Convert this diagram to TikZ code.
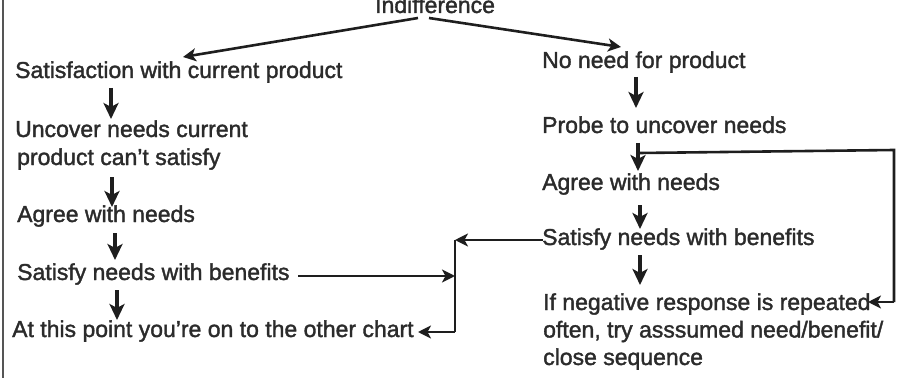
\documentclass[tikz,border=0pt]{standalone}
\usepackage{fontspec}
\setmainfont{Liberation Sans}[BoldFont=Liberation Sans, BoldFeatures={FakeBold=1.6}]
\usetikzlibrary{arrows.meta}
\definecolor{ink}{HTML}{2B2B2B}
\definecolor{lineink}{HTML}{1E1E1E}
\tikzset{
  lbl/.style={anchor=base west, inner sep=0pt, text=ink, align=left,
    font=\fontsize{23}{27.5}\selectfont\bfseries},
  downarr/.style={draw=lineink, line width=3.4pt, -{Stealth[length=16pt,width=15pt,inset=4pt]}},
  conn/.style={draw=lineink, line width=2.6pt, -{Stealth[length=13pt,width=13pt,inset=3.5pt]}},
  plain/.style={draw=lineink, line width=2.6pt},
}
\begin{document}
\begin{tikzpicture}[x=1pt,y=-1pt]
\useasboundingbox (0,0) rectangle (910,385);
% left frame line
\draw[draw=ink!80, line width=2pt] (3,0) -- (3,378);

\node[lbl] (ind) at (375,13) {Indifference};

% left column
\node[lbl] (l1) at (15,78) {Satisfaction with current product};
\node[lbl] (l2) at (15,165) {Uncover needs current\\[0.5pt]\hspace*{2pt}product can't satisfy};
\node[lbl] (l3) at (17,222) {Agree with needs};
\node[lbl] (l4) at (17,280) {Satisfy needs with benefits};
\node[lbl] (l5) at (12,337) {At this point you're on to the other chart};

% right column
\node[lbl] (r1) at (542,68) {No need for product};
\node[lbl] (r2) at (542,133) {Probe to uncover needs};
\node[lbl] (r3) at (542,190) {Agree with needs};
\node[lbl] (r4) at (542,245) {Satisfy needs with benefits};
\node[lbl] (r5) at (543,365) {If negative response is repeated\\often, try asssumed need/benefit/\\close sequence};

% top branches
\coordinate (indL) at (418,18);
\coordinate (indR) at (429,18);
\coordinate (l1t) at (183,57);
\coordinate (r1t) at (621,47);
\draw[conn] (indL) -- (l1t);
\draw[conn] (indR) -- (r1t);

% left down arrows
\draw[downarr] (111,88) -- (111,119);
\draw[downarr] (112,177) -- (112,207);
\draw[downarr] (115,233) -- (115,260);
\draw[downarr] (117,290) -- (117,320);

% right down arrows
\draw[downarr] (636,77) -- (636,108);
\draw[downarr] (638,143) -- (638,171);
\draw[downarr] (640,205) -- (640,229);
\draw[downarr] (640,255) -- (640,285);

% cross connections
\coordinate (r4s) at (543,240);
\coordinate (l4e) at (298,276);
\coordinate (l5e) at (418,332);
\coordinate (jt) at (455,240);
\coordinate (jm) at (455,276);
\coordinate (jb) at (455,332);
\draw[conn] (r4s) -- (jt);
\draw[plain] (jt) -- (jb);
\draw[conn] (l4e) -- (jm);
\draw[conn] (jb) -- (l5e);

% loop on right
\coordinate (p1) at (639,153);
\coordinate (p2) at (894,150);
\coordinate (p3) at (894,302);
\coordinate (p4) at (868,302);
\draw[plain] (p1) -- (p2) -- (p3);
\draw[conn] (p3) -- (p4);
\end{tikzpicture}
\end{document}
